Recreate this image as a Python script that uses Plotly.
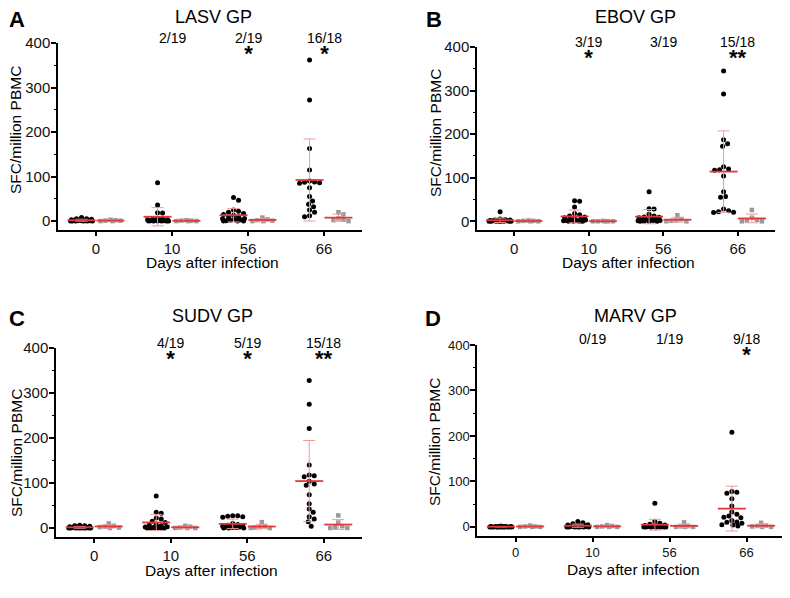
import numpy as np
import plotly.graph_objs as go

days = ["0", "10", "56", "66"]

# SFC per million PBMC, one list per day; "inf" = infected animals, "ctl" = controls
lasv_inf = [
    [8, 5, 5, 4, 3, 3, 2, 2, 2, 1, 1, 1, 1, 0, 0, 0, 0, 0, 0],
    [86, 36, 19, 18, 6, 5, 4, 3, 3, 2, 2, 1, 1, 0, 0, 0, 0, 0, 0],
    [53, 47, 25, 22, 20, 17, 15, 13, 10, 8, 6, 5, 4, 3, 2, 1, 0, 0, 0],
    [362, 272, 163, 115, 90, 88, 87, 86, 85, 75, 55, 45, 38, 32, 25, 20, 12, 10],
]
lasv_ctl = [[3, 2, 1, 1, 0, 0], [2, 1, 1, 0, 0, 0], [8, 4, 2, 1, 0, 0], [20, 15, 6, 3, 2, 0]]
lasv_frac = ["", "2/19", "2/19", "16/18"]
lasv_star = ["", "", "*", "*"]

ebov_inf = [
    [22, 5, 4, 3, 3, 2, 2, 2, 1, 1, 1, 0, 0, 0, 0, 0, 0, 0, 0],
    [47, 46, 33, 18, 15, 12, 10, 8, 6, 5, 4, 3, 2, 1, 1, 0, 0, 0, 0],
    [68, 29, 28, 16, 12, 10, 9, 8, 6, 5, 4, 3, 2, 2, 1, 0, 0, 0, 0],
    [345, 292, 187, 178, 172, 125, 120, 118, 117, 104, 68, 57, 55, 28, 24, 22, 21, 20],
]
ebov_ctl = [[2, 1, 1, 0, 0, 0], [1, 0, 0, 0, 0, 0], [14, 5, 2, 1, 0, 0], [26, 8, 3, 2, 0, 0]]
ebov_frac = ["", "3/19", "3/19", "15/18"]
ebov_star = ["", "*", "", "**"]

sudv_inf = [
    [6, 5, 5, 4, 3, 2, 2, 1, 1, 1, 0, 0, 0, 0, 0, 0, 0, 0, 0],
    [71, 35, 33, 22, 20, 15, 12, 8, 6, 5, 3, 2, 1, 1, 0, 0, 0, 0, 0],
    [27, 27, 26, 25, 24, 10, 8, 6, 5, 4, 3, 3, 2, 2, 1, 1, 0, 0, 0],
    [328, 275, 221, 140, 118, 116, 114, 104, 98, 95, 74, 54, 42, 35, 25, 20, 14, 4],
]
sudv_ctl = [[10, 5, 3, 2, 1, 0], [5, 3, 1, 0, 0, 0], [13, 4, 2, 1, 0, 0], [28, 12, 4, 2, 0, 0]]
sudv_frac = ["", "4/19", "5/19", "15/18"]
sudv_star = ["", "*", "*", "**"]

marv_inf = [
    [2, 1, 1, 1, 1, 1, 1, 0, 0, 0, 0, 0, 0, 0, 0, 0, 0, 0, 0],
    [12, 9, 7, 5, 4, 3, 3, 2, 2, 1, 1, 1, 0, 0, 0, 0, 0, 0, 0],
    [52, 12, 8, 6, 4, 3, 2, 2, 1, 1, 1, 0, 0, 0, 0, 0, 0, 0, 0],
    [208, 78, 76, 74, 62, 46, 33, 28, 24, 21, 20, 14, 11, 10, 8, 5, 4, 2],
]
marv_ctl = [[3, 1, 1, 0, 0, 0], [4, 2, 1, 0, 0, 0], [10, 2, 1, 0, 0, 0], [9, 3, 2, 1, 0, 0]]
marv_frac = ["", "0/19", "1/19", "9/18"]
marv_star = ["", "", "", "*"]

FONT = "Liberation Sans, Arial, sans-serif"
RED = "#e2383c"
PINK = "#f09a9a"

# panel boxes in page pixels: left, right, top, bottom
# plus where the title / axis titles sit
panels = [
    dict(name="LASV GP", letter="A", inf=lasv_inf, ctl=lasv_ctl, frac=lasv_frac, star=lasv_star,
         box=(58, 362, 43, 230), title_xy=(213, 17), letter_x=17, ytitle_xy=(16, 130),
         frac_y=38, tick=15),
    dict(name="EBOV GP", letter="B", inf=ebov_inf, ctl=ebov_ctl, frac=ebov_frac, star=ebov_star,
         box=(477, 775, 47, 230), title_xy=(635, 17), letter_x=434, ytitle_xy=(435, 133),
         frac_y=42, tick=15),
    dict(name="SUDV GP", letter="C", inf=sudv_inf, ctl=sudv_ctl, frac=sudv_frac, star=sudv_star,
         box=(56, 362, 348, 537), title_xy=(212, 316), letter_x=17, ytitle_xy=(16, 453),
         frac_y=343, tick=15),
    dict(name="MARV GP", letter="D", inf=marv_inf, ctl=marv_ctl, frac=marv_frac, star=marv_star,
         box=(477, 785, 345, 536), title_xy=(635, 316), letter_x=433, ytitle_xy=(435, 442),
         frac_y=339, tick=13),
]

# the page body has an 8px margin, so the figure starts at (8, 8)
OFF = 8
W, H = 790 - OFF, 598 - OFF
YMIN, YMAX = -20, 400


def swarm(vals, xscale, yscale, dot=5.0, maxoff=11):
    # greedy beeswarm: pixel offsets so close values sit side by side
    cands = [0]
    for k in range(1, maxoff + 1):
        cands += [k, -k]
    placed = []
    offs = np.zeros(len(vals))
    for i in np.argsort(vals)[::-1]:
        y = vals[i] * yscale
        best, bestd = 0, -1
        for c in cands:
            d = min([np.hypot(c - q, y - w) for q, w in placed] or [99])
            if d >= dot:
                best = c
                break
            if d > bestd:
                best, bestd = c, d
        placed.append((best, y))
        offs[i] = best
    return offs / xscale


def px(x, y):
    return (x - OFF) / W, 1 - (y - OFF) / H


fig = go.Figure()
annotations = []


def note(x, y, text, size, yanchor="middle", **kw):
    fx, fy = px(x, y)
    annotations.append(dict(x=fx, y=fy, xref="paper", yref="paper", text=text,
                            showarrow=False, xanchor="center", yanchor=yanchor,
                            font=dict(size=size), **kw))


for n, p in enumerate(panels):
    l, r, t, b = p["box"]
    xa = "x" if n == 0 else "x%d" % (n + 1)
    ya = "y" if n == 0 else "y%d" % (n + 1)
    xscale = (r - l) / 4.0
    yscale = (b - t) / float(YMAX - YMIN)

    for i in range(4):
        for vals, shift, style in [
            (p["inf"][i], -0.19, dict(symbol="circle", size=5, color="black")),
            (p["ctl"][i], 0.19, dict(symbol="square", size=4.5, color="#9a9a9a")),
        ]:
            v = np.array(vals, dtype=float)
            x = i + shift + swarm(v, xscale, yscale)
            fig.add_trace(go.Scatter(x=x, y=v, mode="markers", marker=style,
                                     xaxis=xa, yaxis=ya, showlegend=False))
            fig.add_trace(go.Scatter(
                x=[i + shift], y=[v.mean()], mode="markers",
                marker=dict(symbol="line-ew", size=20, line=dict(width=1.8, color=RED)),
                error_y=dict(type="data", array=[v.std(ddof=1)], color=PINK,
                             thickness=1, width=6),
                xaxis=xa, yaxis=ya, showlegend=False))

        # responder fraction, with the significance stars on a second line
        label = p["frac"][i]
        if p["star"][i]:
            label += "<br><span style='font-size:22px'><b>%s</b></span>" % p["star"][i]
        if label:
            note(l + (i + 0.5) * xscale, p["frac_y"] - 10, label, 14, yanchor="top")

    note(p["title_xy"][0], p["title_xy"][1], p["name"], 18)
    note(p["letter_x"], p["title_xy"][1] + 2, "<b>%s</b>" % p["letter"], 22)
    note(p["ytitle_xy"][0], p["ytitle_xy"][1], "SFC/million PBMC", 15.5, textangle=-90)
    note((l + r) / 2.0 + 2, b + 33, "Days after infection", 15.5)

    axis = dict(showline=True, linecolor="black", linewidth=1.5, ticks="outside",
                tickcolor="black", tickwidth=1.5, showgrid=False, zeroline=False,
                automargin=False, tickfont=dict(size=p["tick"], color="#111"))
    x0, y0 = px(l, b)
    x1, y1 = px(r, t)
    fig.layout[xa.replace("x", "xaxis")] = dict(
        axis, domain=[x0, x1], anchor=ya, range=[-0.5, 3.5],
        tickvals=[0, 1, 2, 3], ticktext=days, ticklen=4)
    fig.layout[ya.replace("y", "yaxis")] = dict(
        axis, domain=[y0, y1], anchor=xa, range=[YMIN, YMAX],
        tickvals=[0, 100, 200, 300, 400], ticklen=5, ticklabelstandoff=-2,
        minor=dict(ticks="outside", ticklen=2.5, dtick=50, tickcolor="black", tickwidth=1))

fig.update_layout(
    width=W, height=H, margin=dict(l=0, r=0, t=0, b=0, pad=0),
    plot_bgcolor="white", paper_bgcolor="white",
    font=dict(family=FONT, color="black"),
    annotations=annotations,
)

fig.write_html("out.html")
